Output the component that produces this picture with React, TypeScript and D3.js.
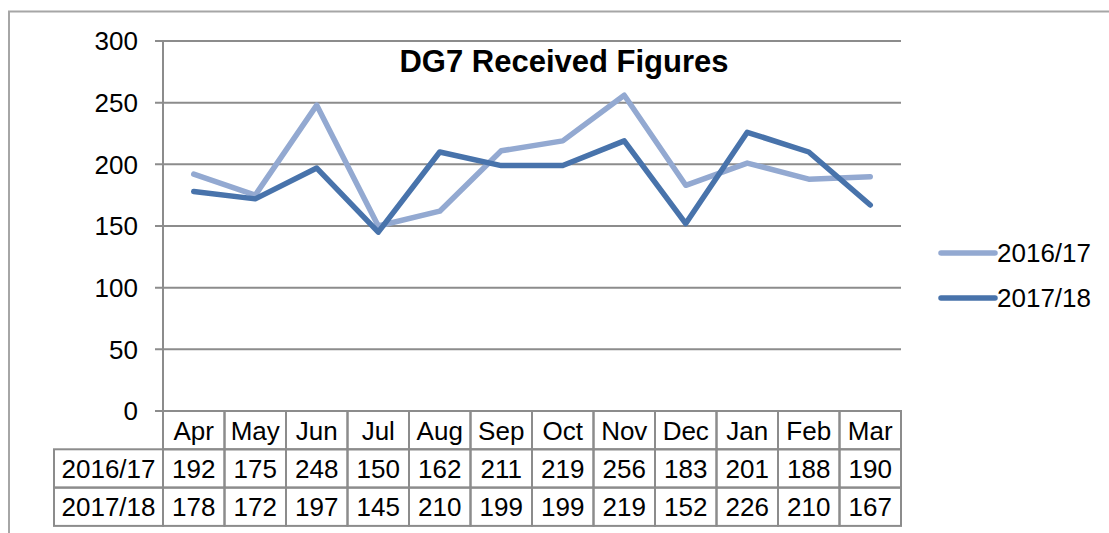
import React from "react";
import * as d3 from "d3";

const months = ["Apr", "May", "Jun", "Jul", "Aug", "Sep", "Oct", "Nov", "Dec", "Jan", "Feb", "Mar"];
const seriesNames = ["2016/17", "2017/18"];
const values1617 = [192, 175, 248, 150, 162, 211, 219, 256, 183, 201, 188, 190];
const values1718 = [178, 172, 197, 145, 210, 199, 199, 219, 152, 226, 210, 167];
const yTicks = [0, 50, 100, 150, 200, 250, 300];
const colors = ["#93a9d1", "#4873ab"];

const W = 1109;
const H = 533;
const plotLeft = 163;
const plotRight = 901;
const plotTop = 41;
const plotBottom = 411;
const rowH = 38.3;
const labelLeft = 54;
const gridColor = "#8c8c8c";
const font = "Arial, 'Liberation Sans', sans-serif";

export default function App() {
  const x = d3.scaleBand<string>().domain(months).range([plotLeft, plotRight]);
  const y = d3.scaleLinear().domain([0, 300]).range([plotBottom, plotTop]);
  const line = d3
    .line<number>()
    .x((_, i) => (x(months[i]) as number) + x.bandwidth() / 2)
    .y((d) => y(d));
  const series = [values1617, values1718];
  const tableTop = plotBottom;
  const rows = [months, values1617.map(String), values1718.map(String)];

  return (
    <svg
      width={W}
      height={H}
      style={{ position: "absolute", left: 0, top: 0, display: "block", background: "#fff" }}
      fontFamily={font}
    >
      <rect x={9} y={11.5} width={W + 20} height={H + 20} fill="#fff" stroke="#a6a6a6" strokeWidth={2} />
      {yTicks.map((t) => (
        <g key={t}>
          <line x1={plotLeft - 8} x2={plotRight} y1={y(t)} y2={y(t)} stroke={gridColor} strokeWidth={2} />
          <text x={138} y={y(t)} dy="0.36em" textAnchor="end" fontSize={26} fill="#000">
            {t}
          </text>
        </g>
      ))}
      <line x1={plotLeft} x2={plotLeft} y1={plotTop} y2={plotBottom} stroke={gridColor} strokeWidth={2} />
      <text x={564} y={72} textAnchor="middle" fontSize={31} fontWeight="bold" fill="#000">
        DG7 Received Figures
      </text>
      {series.map((s, i) => (
        <path
          key={i}
          d={line(s) || ""}
          fill="none"
          stroke={colors[i]}
          strokeWidth={5.5}
          strokeLinejoin="round"
          strokeLinecap="round"
        />
      ))}
      {seriesNames.map((n, i) => {
        const ly = 253 + i * 45;
        return (
          <g key={n}>
            <line x1={941} x2={995} y1={ly} y2={ly} stroke={colors[i]} strokeWidth={5.5} strokeLinecap="round" />
            <text x={997} y={ly} dy="0.36em" fontSize={26} fill="#000">
              {n}
            </text>
          </g>
        );
      })}
      {rows.map((r, ri) => {
        const top = tableTop + ri * rowH;
        return (
          <g key={ri}>
            {ri > 0 && (
              <>
                <rect x={labelLeft} y={top} width={plotLeft - labelLeft} height={rowH} fill="none" stroke={gridColor} strokeWidth={2} />
                <text x={(labelLeft + plotLeft) / 2} y={top + rowH / 2} dy="0.36em" textAnchor="middle" fontSize={26} fill="#000">
                  {seriesNames[ri - 1]}
                </text>
              </>
            )}
            {r.map((c, ci) => (
              <g key={ci}>
                <rect
                  x={x(months[ci]) as number}
                  y={top}
                  width={x.bandwidth()}
                  height={rowH}
                  fill="none"
                  stroke={gridColor}
                  strokeWidth={2}
                />
                <text
                  x={(x(months[ci]) as number) + x.bandwidth() / 2}
                  y={top + rowH / 2}
                  dy="0.36em"
                  textAnchor="middle"
                  fontSize={26}
                  fill="#000"
                >
                  {c}
                </text>
              </g>
            ))}
          </g>
        );
      })}
    </svg>
  );
}
